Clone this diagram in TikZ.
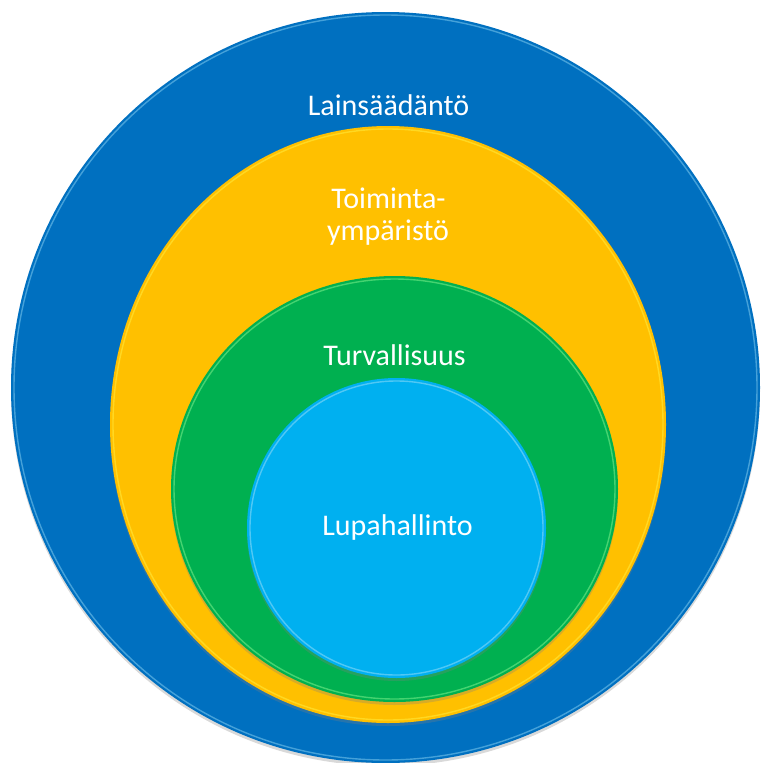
\documentclass[tikz,border=0pt]{standalone}
\usepackage{fontspec}
\setmainfont{Carlito}
\usetikzlibrary{shapes.geometric,shadows}
\definecolor{cblue}{HTML}{0070C0}
\definecolor{cyellow}{HTML}{FFC000}
\definecolor{cgreen}{HTML}{00B050}
\definecolor{clight}{HTML}{00B0F0}
\begin{document}
\begin{tikzpicture}[x=1pt,y=-1pt,
  disc/.style={ellipse, inner sep=0pt, draw=none,
    drop shadow={opacity=0.3, shadow xshift=0pt, shadow yshift=-3pt}},
  rim/.style={line width=1.4pt, opacity=0.45},
  lbl/.style={text=white, font=\fontsize{30}{32}\selectfont, inner sep=0pt, anchor=base}]
\useasboundingbox (0,0) rectangle (761,763);
% outer disc
\node[disc, fill=cblue, minimum width=749pt, minimum height=751pt] (law) at (385.5,387.5) {};
\draw[rim, draw=cyan!40] (law.center) ellipse [x radius=371.5pt, y radius=372.5pt];
% yellow
\node[disc, fill=cyellow, minimum width=556pt, minimum height=597pt] (env) at (388,424.5) {};
\draw[rim, draw=yellow!70] (env.center) ellipse [x radius=275pt, y radius=295.5pt];
% green
\node[disc, fill=cgreen, minimum width=447pt, minimum height=426pt] (saf) at (394.5,489) {};
\draw[rim, draw=green!40] (saf.center) ellipse [x radius=220.5pt, y radius=210pt];
% light blue
\node[disc, fill=clight, minimum width=299pt, minimum height=300pt] (lic) at (396.5,528) {};
\draw[rim, draw=cyan!30] (lic.center) ellipse [x radius=146.5pt, y radius=147pt];
% labels
\node[lbl] (tlaw) at (388.5,115) {Lainsäädäntö};
\node[lbl] (tenv1) at (388.5,208) {Toiminta-};
\node[lbl] (tenv2) at (388,240) {ympäristö};
\node[lbl] (tsaf) at (394.5,365) {Turvallisuus};
\node[lbl] (tlic) at (397.5,535) {Lupahallinto};
\end{tikzpicture}
\end{document}
